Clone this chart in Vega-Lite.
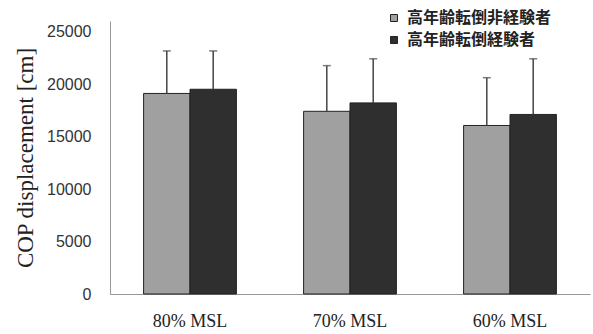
{
  "$schema": "https://vega.github.io/schema/vega-lite/v6.json",
  "width": 480,
  "height": 273,
  "autosize": {"type": "none"},
  "padding": {"left": 110, "top": 21, "right": 3, "bottom": 40},
  "background": "white",
  "config": {"view": {"stroke": null}},
  "data": {
    "values": [
      {"cat": "80% MSL", "grp": "高年齢転倒非経験者", "mean": 19100, "upper": 23150},
      {"cat": "80% MSL", "grp": "高年齢転倒経験者", "mean": 19500, "upper": 23150},
      {"cat": "70% MSL", "grp": "高年齢転倒非経験者", "mean": 17400, "upper": 21750},
      {"cat": "70% MSL", "grp": "高年齢転倒経験者", "mean": 18200, "upper": 22400},
      {"cat": "60% MSL", "grp": "高年齢転倒非経験者", "mean": 16050, "upper": 20600},
      {"cat": "60% MSL", "grp": "高年齢転倒経験者", "mean": 17100, "upper": 22400}
    ]
  },
  "encoding": {
    "x": {
      "field": "cat",
      "type": "nominal",
      "sort": ["80% MSL", "70% MSL", "60% MSL"],
      "scale": {"paddingInner": 0.42, "paddingOuter": 0.21},
      "title": null,
      "axis": {
        "labelAngle": 0,
        "labelFont": "Liberation Serif",
        "labelFontSize": 18,
        "labelColor": "#222",
        "labelPadding": 22,
        "domainColor": "#999",
        "tickColor": "#999",
        "tickSize": -4,
        "bandPosition": 0,
        "tickExtra": true
      }
    },
    "xOffset": {
      "field": "grp",
      "type": "nominal",
      "sort": ["高年齢転倒非経験者", "高年齢転倒経験者"],
      "scale": {"paddingInner": 0, "paddingOuter": 0}
    }
  },
  "layer": [
    {
      "mark": {"type": "bar", "stroke": "#222", "strokeWidth": 1},
      "encoding": {
        "y": {
          "field": "mean",
          "type": "quantitative",
          "scale": {"domain": [0, 25000]},
          "title": "COP displacement [cm]",
          "axis": {
            "values": [0, 5000, 10000, 15000, 20000, 25000],
            "format": "d",
            "grid": false,
            "ticks": false,
            "domainColor": "#999",
            "labelFont": "Liberation Sans",
            "labelFontSize": 16,
            "labelColor": "#333",
            "labelPadding": 19,
            "titleFont": "Liberation Serif",
            "titleFontSize": 23,
            "titleFontWeight": "normal",
            "titleColor": "#222",
            "titlePadding": 9
          }
        },
        "color": {
          "field": "grp",
          "type": "nominal",
          "scale": {"domain": ["高年齢転倒非経験者", "高年齢転倒経験者"], "range": ["#a0a0a0", "#2f2f2f"]},
          "legend": {
            "title": null,
            "orient": "none",
            "legendX": 276,
            "legendY": -11,
            "symbolType": "square",
            "symbolSize": 49,
            "symbolStrokeColor": "#222",
            "symbolStrokeWidth": 1,
            "labelFont": "Noto Sans CJK JP",
            "labelFontSize": 16,
            "labelFontWeight": "bold",
            "labelColor": "#222",
            "labelOffset": 5,
            "rowPadding": 6
          }
        }
      }
    },
    {
      "mark": {"type": "rule", "color": "#444", "strokeWidth": 1.5},
      "encoding": {
        "y": {"field": "mean", "type": "quantitative"},
        "y2": {"field": "upper"}
      }
    },
    {
      "mark": {"type": "tick", "orient": "horizontal", "size": 8, "thickness": 1.5, "color": "#444"},
      "encoding": {
        "y": {"field": "upper", "type": "quantitative"}
      }
    }
  ]
}
